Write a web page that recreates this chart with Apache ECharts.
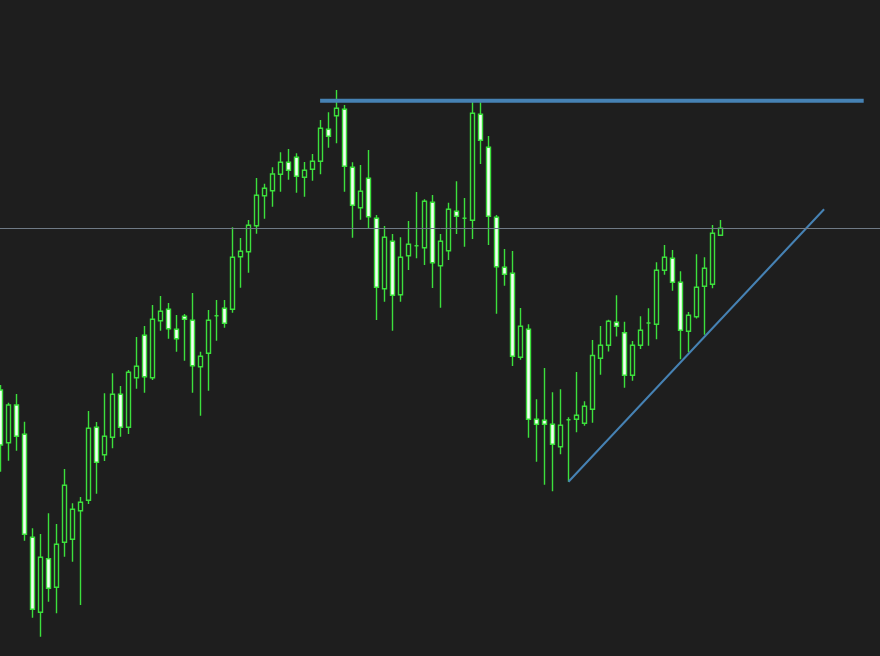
<!DOCTYPE html>
<html>
<head>
<meta charset="utf-8">
<script src="https://cdn.jsdelivr.net/npm/echarts@6/dist/echarts.min.js"></script>
<style>
  html, body { margin: 0; padding: 0; background: #1e1e1e; overflow: hidden; width: 880px; height: 656px; position: relative; }
  #chart { position: absolute; left: -4px; top: 0; width: 889px; height: 656px; }
</style>
</head>
<body>
<div id="chart"></div>
<script>
// Price values (arbitrary linear price units, no axis labels shown)
const opens  = [266,213.3,251,221.7,118.7,43.7,97.3,68.7,113.7,116.7,145.3,155.7,228.7,201.3,218.7,261.7,228.7,278.3,320.7,278.3,
                335.3,346.7,326.7,339.7,335.7,289.3,302.7,340.3,347.7,346.7,399.3,404.3,430.3,460.3,465.3,481.7,493.7,498.7,478.7,486.7,
                494.7,526.7,540.3,546.7,488.7,448.3,477.7,437.7,367.3,414.7,361.3,400.3,410.3,408.3,453.7,390.3,405.3,444.7,437.7,435.7,
                541.7,508.7,438.7,388.7,382.7,298.7,326.7,236.7,235.7,231.7,209.3,236.3,236.7,232.7,246.7,297.7,310.7,333.7,323.3,280.7,
                310.7,333,331.7,385.7,397.7,373.7,324.7,339.3,369.7,371.7,420.7];
const closes = [211,251,219.7,121.7,46.7,98.7,67.7,111.7,170.7,146.7,153.7,227.7,193.7,219.7,261.7,228.7,283.7,289.7,279.3,336.7,
                344.7,327.3,317.3,336.7,290.3,299.7,335.7,340.3,332.7,398.7,404.7,430.7,460.7,467.7,482,493.7,485.7,479.7,485.7,494.7,
                527.7,519.7,547.7,489.7,450.7,464.7,439.3,368.7,418.7,360.7,398.7,411.7,410.3,454.7,393.3,414.7,446.7,439.7,437.7,542.7,
                515.7,439.7,389.3,381.7,299.7,329.7,236.7,231.7,231.7,211.7,230.7,236.3,240.7,249.7,300.5,310.7,334.7,329.7,280.7,310.7,
                325.7,333,385.7,398.7,373.7,325.7,340.7,368.7,387.7,422.7,427.7];
const lows   = [184.3,195.3,205.3,115.3,38.3,19.3,54.3,42.7,99.3,94.3,51,152,162.3,195,207.7,219.3,222,267.3,263.3,276,
                325.3,317.3,304.3,295.3,263.3,240.3,265.3,315.3,328.3,343.3,368.3,383.3,422.3,437.3,449.3,464.3,476.3,463.3,459.3,475.3,
                481.7,508.3,512.7,464.3,418.3,436.3,427.7,336,354.3,325.3,354.3,386,397.7,391,368,348.3,396,422,409.3,417,
                492,411,342.3,370.3,290,296.3,218.3,194.3,171.3,164.7,201.7,174.3,223.7,230.3,233.3,281.3,304.5,319.5,268.3,275.3,
                307,310.3,316.7,381.3,365.3,296.7,303.7,337.5,321.3,367.7,420.7];
const highs  = [271,253.3,262,234.3,127.7,122,142.7,132,187,152.7,159,245,234,262.7,282.7,270,286,319,330,351,
                360,353,341,342,363,304.3,346,356,356,428.7,418,436,478,472.3,488.7,503.7,507,502.7,494,502,
                536,543.7,566,551,493.7,491,506,441,430,422,418.7,435,464,456.7,461,422,453.3,474.7,458,557,
                553.7,520,441,407,405,348,331.7,256.7,288,263.7,266.7,238.7,284,254.7,316,330,336.3,360.7,334.3,315,
                339.7,347.7,393.7,411,406,384.7,344,401.7,398.7,431,436];

// Bar slots on the time axis (the chart leaves empty space to the right of the last bar)
const slotCount = 111;
const categories = Array.from({ length: slotCount }, (_, i) => String(i));

// Drawn objects in [bar position, price]: resistance line, rising trend line; bid line at last close
const resistanceLine = [[39.95, 555.2], [107.9, 555.2]];
const trendLine = [[71, 174.3], [102.95, 446.7]];
const bidPrice = closes[closes.length - 1];

const ohlc = opens.map((o, i) => [o, closes[i], lows[i], highs[i]]);

const hiddenAxis = {
  axisLine: { show: false }, axisTick: { show: false }, axisLabel: { show: false }, splitLine: { show: false }
};

const chart = echarts.init(document.getElementById('chart'), null, { renderer: 'canvas' });
chart.setOption({
  backgroundColor: '#1e1e1e',
  animation: false,
  grid: { left: 0.5, right: 0.5, top: 0, bottom: 0, containLabel: false },
  xAxis: [
    Object.assign({ type: 'category', data: categories, boundaryGap: true }, hiddenAxis),
    Object.assign({ type: 'value', min: -0.5, max: slotCount - 0.5 }, hiddenAxis)
  ],
  yAxis: Object.assign({ type: 'value', min: 0, max: 656, scale: false }, hiddenAxis),
  series: [
    {
      type: 'candlestick',
      data: ohlc,
      barWidth: 4,
      itemStyle: {
        color: '#1e1e1e',
        color0: '#f4fff4',
        borderColor: '#3ce03c',
        borderColor0: '#3ce03c',
        borderColorDoji: '#3ce03c',
        borderWidth: 1.4
      },
      emphasis: { disabled: true },
      markLine: {
        silent: true,
        symbol: ['none', 'none'],
        label: { show: false },
        data: [
          { yAxis: bidPrice, lineStyle: { color: '#6f7a86', width: 1, type: 'solid' } }
        ]
      }
    },
    {
      type: 'line', xAxisIndex: 1, data: resistanceLine, symbol: 'none', silent: true,
      lineStyle: { color: '#4682b4', width: 4, cap: 'butt' }
    },
    {
      type: 'line', xAxisIndex: 1, data: trendLine, symbol: 'none', silent: true,
      lineStyle: { color: '#4682b4', width: 2 }
    }
  ]
});
</script>
</body>
</html>
